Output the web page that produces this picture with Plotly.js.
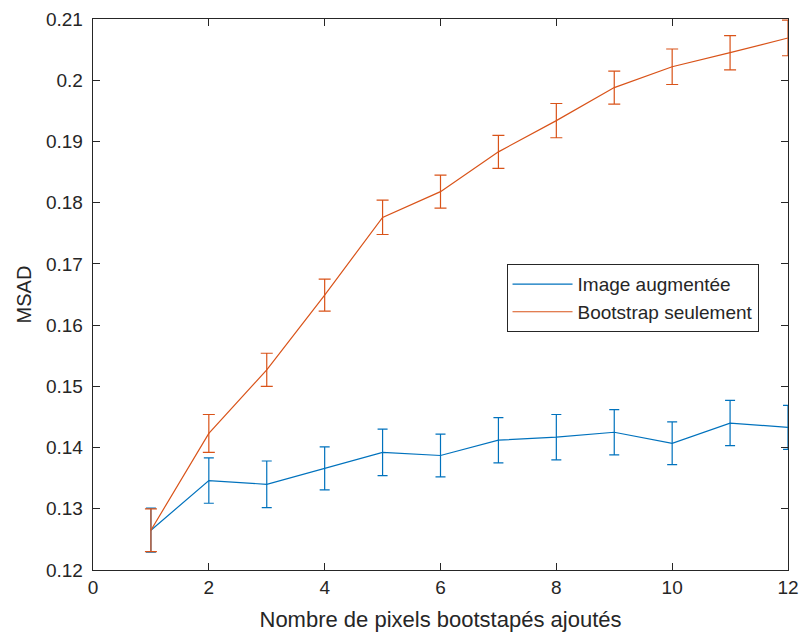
<!DOCTYPE html>
<html>
<head>
<meta charset="utf-8">
<script src="https://cdn.plot.ly/plotly-3.0.1.min.js"></script>
<style>html,body{margin:0;padding:0;background:#fff;}#chart{width:802px;height:636px;}</style>
</head>
<body>
<div id="chart"></div>
<script>
const xValues = [1, 2, 3, 4, 5, 6, 7, 8, 9, 10, 11, 12];
const augmentedMean = [0.1265, 0.1346, 0.1340, 0.1366, 0.1392, 0.1387, 0.1412, 0.1417, 0.1425, 0.1407, 0.1440, 0.1433];
const augmentedErr = [0.0036, 0.0037, 0.0038, 0.0035, 0.0038, 0.0035, 0.0037, 0.0037, 0.0037, 0.0035, 0.0037, 0.0036];
const bootstrapMean = [0.1265, 0.1423, 0.1527, 0.1649, 0.1776, 0.1818, 0.1883, 0.1934, 0.1988, 0.2022, 0.2045, 0.2069];
const bootstrapErr = [0.0035, 0.0031, 0.0027, 0.0026, 0.0028, 0.0027, 0.0027, 0.0028, 0.0027, 0.0029, 0.0028, 0.0029];
const yTickVals = [0.12, 0.13, 0.14, 0.15, 0.16, 0.17, 0.18, 0.19, 0.2, 0.21];
const yTickText = ['0.12', '0.13', '0.14', '0.15', '0.16', '0.17', '0.18', '0.19', '0.2', '0.21'];
const xTickVals = [0, 2, 4, 6, 8, 10, 12];
const seriesNames = ['Image augmentée', 'Bootstrap seulement'];

const blue = '#0072BD', orange = '#D95319';
const font = '"Liberation Sans", Arial, sans-serif';
const traces = [
  {x: xValues, y: augmentedMean, name: seriesNames[0], type: 'scatter', mode: 'lines', cliponaxis: false,
   line: {color: blue, width: 1.2},
   error_y: {type: 'data', array: augmentedErr, visible: true, color: blue, thickness: 1.2, width: 5}},
  {x: xValues, y: bootstrapMean, name: seriesNames[1], type: 'scatter', mode: 'lines', cliponaxis: false,
   line: {color: orange, width: 1.2},
   error_y: {type: 'data', array: bootstrapErr, visible: true, color: orange, thickness: 1.2, width: 6}}
];
const axisCommon = {showgrid: false, zeroline: false, showline: true, linecolor: '#262626', linewidth: 1,
  mirror: 'ticks', ticks: 'inside', ticklen: 7, tickcolor: '#262626', tickwidth: 1,
  tickfont: {family: font, size: 19, color: '#262626'}};
const layout = {
  width: 802, height: 636,
  margin: {l: 93, r: 14, t: 19, b: 66},
  paper_bgcolor: '#fff', plot_bgcolor: '#fff',
  showlegend: true,
  legend: {x: 0.595, y: 0.555, xanchor: 'left', yanchor: 'top', bgcolor: '#fff', bordercolor: '#262626', borderwidth: 1,
    font: {family: font, size: 19, color: '#262626'}, tracegroupgap: 0, itemwidth: 60},
  xaxis: Object.assign({}, axisCommon, {range: [0, 12], tickvals: xTickVals, ticktext: xTickVals.map(String),
    title: {text: 'Nombre de pixels bootstapés ajoutés', font: {family: font, size: 22, color: '#262626'}, standoff: 14}}),
  yaxis: Object.assign({}, axisCommon, {range: [0.12, 0.21], tickvals: yTickVals, ticktext: yTickText.map(t => t + '\u00a0'),
    title: {text: 'MSAD', font: {family: font, size: 20, color: '#262626'}, standoff: 8}})
};
Plotly.newPlot('chart', traces, layout, {displayModeBar: false, staticPlot: true});
</script>
</body>
</html>
